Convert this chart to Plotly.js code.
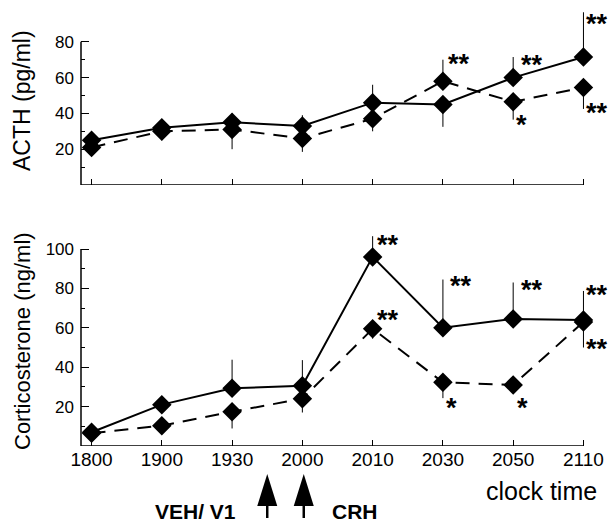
<!DOCTYPE html>
<html><head><meta charset="utf-8">
<script src="https://cdn.plot.ly/plotly-3.0.1.min.js"></script>
<style>html,body{margin:0;padding:0;background:#fff;}</style>
</head><body><div id="chart" style="width:609px;height:527px;"></div>
<script>
// ---- data ----
const times = ['1800','1900','1930','2000','2010','2030','2050','2110'];

const acthSolid        = [25, 32, 35, 33, 46, 45, 60, 71.5];
const acthSolidErrUp   = [0, 0, 5, 6, 10, 0, 11.5, 25];
const acthSolidErrDn   = [0, 0, 0, 0, 0, 12.5, 0, 0];
const acthDashed       = [21, 30, 31, 26, 37, 58, 46.5, 54.5];
const acthDashedErrUp  = [0, 0, 0, 0, 0, 12, 0, 0];
const acthDashedErrDn  = [2, 5, 11, 7.5, 7, 0, 10, 12];

const corSolid         = [7, 21, 29.3, 30.6, 96, 60, 64.5, 64];
const corSolidErrUp    = [0, 0, 14.5, 13, 10.5, 24.5, 18.5, 14.7];
const corDashed        = [6.5, 10.3, 17.4, 24, 59.5, 32.3, 31, 63];
const corDashedErrDn   = [0, 0, 8.5, 7, 5, 8, 2, 13];

const acthTicks = [20, 40, 60, 80];
const acthMinor = [10, 30, 50, 70];
const corTicks  = [20, 40, 60, 80, 100];
const corMinor  = [10, 30, 50, 70, 90];

// significance marks: [text, category index, value]
const acthStars = [['**',5,71.5],['**',6,71],['**',7,94],['**',7,44],['*',6,37.7]];
const corStars  = [['**',4,105.8],['**',4,67.5],['**',5,85],['**',6,82.7],['**',7,80],['**',7,52.8],['*',5,22.8],['*',6,22.8]];
const starShift = {top:[3,6,1,1,1], bot:[2,2,5,6,1,1,1,2]};

const arrowPos = [2.5, 3.02];

// ---- geometry ----
const W=609, H=527, L=81, R=15, T=6, B=81;
const pw=W-L-R, ph=H-T-B;
const pX = px => (px-L)/pw;
const pY = py => (H-B-py)/ph;
const FONT = '"Liberation Sans", Arial, Helvetica, sans-serif';

function series(x, y, up, dn, dashed, xa, ya){
  return {
    x: x, y: y, xaxis: xa, yaxis: ya, type:'scatter', mode:'lines+markers',
    line:{color:'#000', width:2, dash: dashed ? '14px,9px' : 'solid'},
    marker:{symbol:'diamond', size:15, color:'#000'},
    error_y:{type:'data', symmetric:false, array: up, arrayminus: dn, color:'#000', thickness:1, width:0},
    cliponaxis:false, showlegend:false, hoverinfo:'skip'
  };
}
const zeros = times.map(()=>0);
const data = [
  series(times, acthSolid, acthSolidErrUp, acthSolidErrDn, false, 'x','y'),
  series(times, acthDashed, acthDashedErrUp, acthDashedErrDn, true, 'x','y'),
  series(times, corDashed, zeros, corDashedErrDn, true, 'x2','y2'),
  series(times, corSolid, corSolidErrUp, zeros, false, 'x2','y2')
];

function xax(anchor, labels){
  return {anchor:anchor, type:'category', categoryorder:'array', categoryarray:times,
    range:[-0.15, 7.15], showline:false, showgrid:false, zeroline:false,
    ticks:'inside', ticklen:6, tickwidth:1, tickcolor:'#000',
    tickvals: times, ticktext: times, showticklabels: labels,
    tickfont:{family:FONT, size:19, color:'#000'}, fixedrange:true};
}
function yax(anchor, dom, rng, tv, mv){
  return {anchor:anchor, domain:dom, range:rng, showline:false, showgrid:false, zeroline:false,
    tickvals: tv, ticks:'inside', ticklen:8, tickwidth:1, tickcolor:'#000',
    minor:{tickvals: mv, ticks:'inside', ticklen:4, tickwidth:1, tickcolor:'#000'},
    tickfont:{family:FONT, size:17, color:'#000'}, ticklabelstandoff:6, fixedrange:true};
}

const shapes = [
  {type:'line', xref:'x domain', yref:'y', x0:0, x1:0, y0:0, y1:80, line:{color:'#000', width:1.5}},
  {type:'line', xref:'x', yref:'y', x0:-0.15, x1:7, y0:0, y1:0, line:{color:'#000', width:1.5}},
  {type:'line', xref:'x2 domain', yref:'y2', x0:0, x1:0, y0:0, y1:100, line:{color:'#000', width:1.5}},
  {type:'line', xref:'x2', yref:'y2', x0:-0.15, x1:7, y0:0, y1:0, line:{color:'#000', width:1.5}}
];
arrowPos.forEach(a => {
  shapes.push({type:'path', xref:'x2', xsizemode:'pixel', xanchor:a, yref:'paper', ysizemode:'pixel', yanchor:pY(474),
    path:'M 0 0 L -10 -32 L 10 -32 Z', fillcolor:'#000', line:{width:0}});
  shapes.push({type:'path', xref:'x2', xsizemode:'pixel', xanchor:a, yref:'paper', ysizemode:'pixel', yanchor:pY(474),
    path:'M 0 -30 L 0 -44', line:{color:'#000', width:2.5}});
});

const annotations = [];
const starFont = {family:FONT, size:27, color:'#000', weight:'bold'};
acthStars.forEach((s,k)=>annotations.push({xref:'x', yref:'y', x:s[1], y:s[2], text:s[0], showarrow:false,
  xanchor:'left', yanchor:'middle', xshift:starShift.top[k], yshift:-7, font:starFont}));
corStars.forEach((s,k)=>annotations.push({xref:'x2', yref:'y2', x:s[1], y:s[2], text:s[0], showarrow:false,
  xanchor:'left', yanchor:'middle', xshift:starShift.bot[k], yshift:-7, font:starFont}));

annotations.push(
  {xref:'paper', yref:'paper', x:pX(22), y:pY(101), text:'ACTH (pg/ml)', textangle:-90, showarrow:false,
   xanchor:'center', yanchor:'middle', font:{family:FONT, size:23, color:'#000'}},
  {xref:'paper', yref:'paper', x:pX(22), y:pY(341), text:'Corticosterone (ng/ml)', textangle:-90, showarrow:false,
   xanchor:'center', yanchor:'middle', font:{family:FONT, size:22, color:'#000'}},
  {xref:'paper', yref:'paper', x:pX(541), y:pY(491), text:'clock time', showarrow:false,
   xanchor:'center', yanchor:'middle', font:{family:FONT, size:25, color:'#000'}},
  {xref:'paper', yref:'paper', x:pX(195), y:pY(511), text:'<b>VEH/ V1</b>', showarrow:false,
   xanchor:'center', yanchor:'middle', font:{family:FONT, size:21, color:'#000'}},
  {xref:'paper', yref:'paper', x:pX(355), y:pY(511), text:'<b>CRH</b>', showarrow:false,
   xanchor:'center', yanchor:'middle', font:{family:FONT, size:21, color:'#000'}}
);

const layout = {
  width:W, height:H, margin:{l:L, r:R, t:T, b:B, pad:0},
  paper_bgcolor:'#fff', plot_bgcolor:'#fff', showlegend:false,
  font:{family:FONT, color:'#000'},
  xaxis: xax('y', false),
  yaxis: yax('x', [0.59318, 1], [0, 100], acthTicks, acthMinor),
  xaxis2: xax('y2', true),
  yaxis2: yax('x2', [0, 0.4925], [0, 110], corTicks, corMinor),
  shapes: shapes, annotations: annotations
};
Plotly.newPlot('chart', data, layout, {displayModeBar:false, staticPlot:true});
</script></body></html>
